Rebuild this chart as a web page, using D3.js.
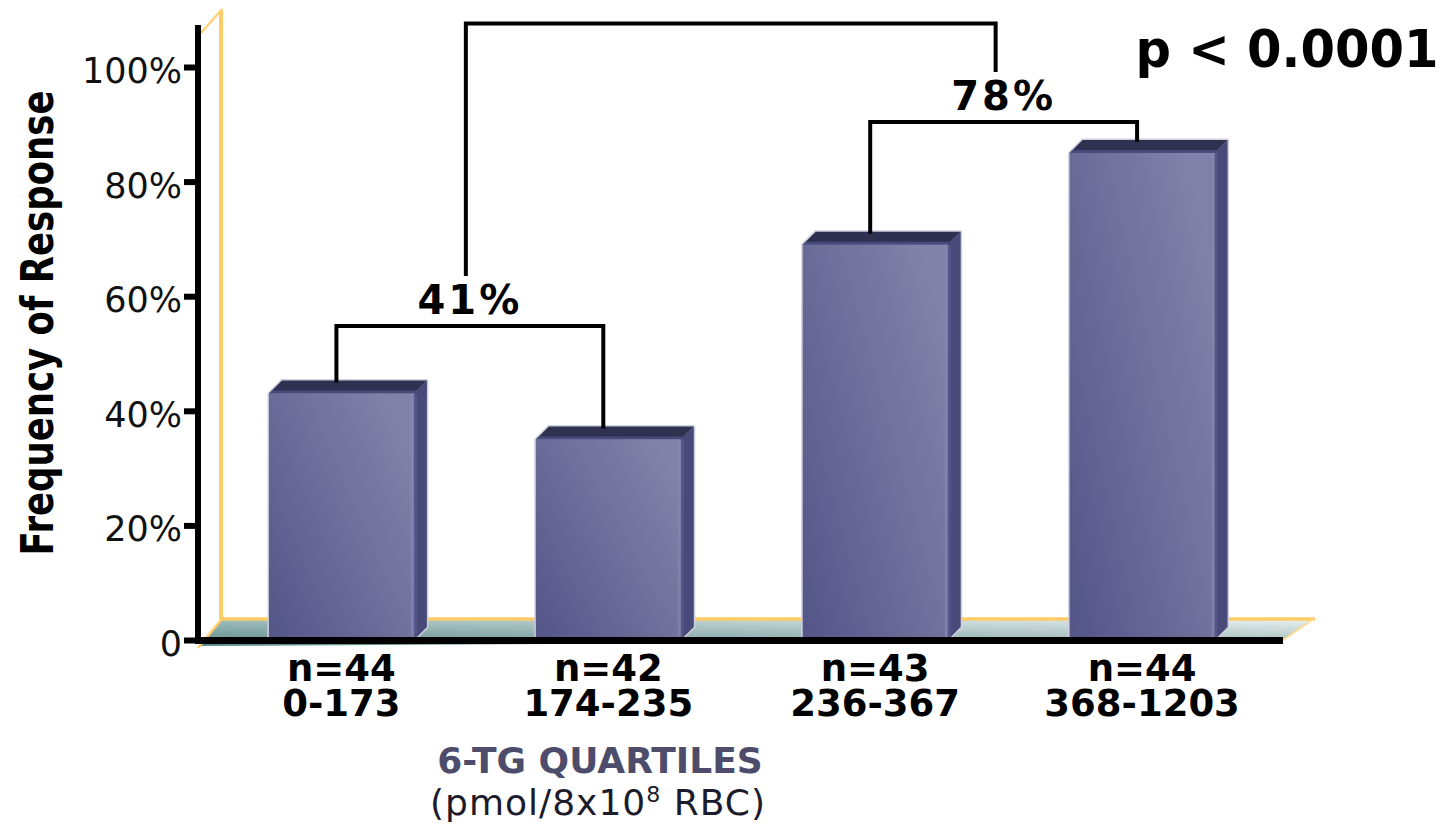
<!DOCTYPE html>
<html>
<head>
<meta charset="utf-8">
<script src="https://cdn.jsdelivr.net/npm/d3@7"></script>
<style>
  html, body { margin: 0; padding: 0; background: #ffffff; }
  svg { display: block; }
</style>
</head>
<body>
<svg id="chart" width="1447" height="825"></svg>
<script>
// ---- data ----
const sampleSizes = ["n=44", "n=42", "n=43", "n=44"];
const quartileRanges = ["0-173", "174-235", "236-367", "368-1203"];
const responseRates = [43, 35, 69, 85];
const yTickValues = [0, 20, 40, 60, 80, 100];
const yTickLabels = ["0", "20%", "40%", "60%", "80%", "100%"];
const pooledPairs = [[0, 1], [2, 3]];
const pooledLabels = ["41%", "78%"];
const pValueText = "p < 0.0001";
const axisTitle = "Frequency of Response";
const xTitle = "6-TG QUARTILES";

// ---- layout ----
const svg = d3.select("#chart");
const defs = svg.append("defs");
const depth = 13;           // 3D depth of the bars
const baseY = 640;
const FONT = "'DejaVu Sans', Verdana, sans-serif";

const y = d3.scaleLinear().domain([0, 100]).range([baseY, 67]);
const x = d3.scaleBand()
  .domain(d3.range(responseRates.length))
  .range([202, 1281.5])
  .paddingInner(0.4567)
  .paddingOuter(0.2507);
const bw = x.bandwidth();

// squeeze a text horizontally (in its own frame) to a target length
function fitWidth(sel, target) {
  const w = sel.node().getComputedTextLength();
  return w > 0 ? target / w : 1;
}

// gradients
const frontGrad = defs.append("linearGradient").attr("id", "front")
  .attr("x1", 0).attr("y1", 1).attr("x2", 1).attr("y2", 0.25);
frontGrad.append("stop").attr("offset", 0).attr("stop-color", "#545588");
frontGrad.append("stop").attr("offset", 1).attr("stop-color", "#8182a9");

const floorGrad = defs.append("linearGradient").attr("id", "floor")
  .attr("x1", 0).attr("y1", 1).attr("x2", 1).attr("y2", 0);
floorGrad.append("stop").attr("offset", 0).attr("stop-color", "#578a8b");
floorGrad.append("stop").attr("offset", 0.55).attr("stop-color", "#a9c1c1");
floorGrad.append("stop").attr("offset", 1).attr("stop-color", "#eaf0f0");

// ---- floor and back wall ----
const floorTop = 619, wallX = 221;
svg.append("polygon")
  .attr("points", [[199, 646], [wallX, floorTop], [1315, floorTop], [1283, baseY]].join(" "))
  .attr("fill", "url(#floor)");
svg.append("line").attr("x1", wallX).attr("y1", floorTop).attr("x2", 1315).attr("y2", floorTop)
  .attr("stroke", "#ffcc66").attr("stroke-width", 3.5);
svg.append("line").attr("x1", 1283).attr("y1", baseY).attr("x2", 1315).attr("y2", floorTop - 1)
  .attr("stroke", "#ffdc96").attr("stroke-width", 2);
svg.append("line").attr("x1", 198).attr("y1", 648).attr("x2", wallX + 1).attr("y2", floorTop)
  .attr("stroke", "#ffcc66").attr("stroke-width", 2.5);
svg.append("line").attr("x1", wallX).attr("y1", 10).attr("x2", wallX).attr("y2", floorTop)
  .attr("stroke", "#ffcc66").attr("stroke-width", 4);
svg.append("line").attr("x1", 201).attr("y1", 33).attr("x2", wallX + 1).attr("y2", 9)
  .attr("stroke", "#ffd27a").attr("stroke-width", 2.5);

// ---- bars ----
const bars = svg.append("g").selectAll("g").data(responseRates).join("g");

bars.each(function (v, i) {
  const g = d3.select(this);
  const x0 = x(i), x1 = x(i) + bw, yt = y(v);
  // pale rim around the silhouette
  g.append("polygon")
    .attr("points", [[x0, baseY], [x0, yt], [x0 + depth, yt - depth], [x1 + depth, yt - depth],
                     [x1 + depth, baseY - depth], [x1, baseY]].join(" "))
    .attr("fill", "#cfd0de").attr("stroke", "#cfd0de").attr("stroke-width", 3)
    .attr("stroke-linejoin", "round");
  // right side
  g.append("polygon")
    .attr("points", [[x1, yt], [x1 + depth, yt - depth], [x1 + depth, baseY - depth], [x1, baseY]].join(" "))
    .attr("fill", "#494a79");
  // top
  g.append("polygon")
    .attr("points", [[x0, yt], [x0 + depth, yt - depth], [x1 + depth, yt - depth], [x1, yt]].join(" "))
    .attr("fill", "#2f3150");
  // bevel strip on the front-top edge
  g.append("polygon")
    .attr("points", [[x0, yt], [x0 + 3, yt - 3], [x1 + 3, yt - 3], [x1, yt]].join(" "))
    .attr("fill", "#484a7c");
  // front face
  g.append("rect")
    .attr("x", x0).attr("y", yt).attr("width", bw).attr("height", baseY - yt)
    .attr("fill", "url(#front)");
  g.append("rect")
    .attr("x", x1 - 3).attr("y", yt).attr("width", 3).attr("height", baseY - yt)
    .attr("fill", "#8586ac").attr("opacity", 0.7);
  g.append("rect")
    .attr("x", x1).attr("y", yt).attr("width", 3).attr("height", baseY - yt)
    .attr("fill", "#54558a");
});

// ---- axes ----
const yAxis = d3.axisLeft(y)
  .tickValues(yTickValues)
  .tickFormat((d, i) => yTickLabels[i])
  .tickSize(11)
  .tickPadding(2);
const yAxisG = svg.append("g").attr("transform", "translate(195,0)").call(yAxis);
yAxisG.select(".domain").remove();
yAxisG.selectAll(".tick line").attr("stroke", "#000").attr("stroke-width", 6);
yAxisG.selectAll(".tick text")
  .attr("fill", "#111")
  .attr("font-family", FONT)
  .attr("font-size", 35)
  .attr("dy", "0.44em");

svg.append("line").attr("x1", 198).attr("y1", 25).attr("x2", 198).attr("y2", 644)
  .attr("stroke", "#000").attr("stroke-width", 6);
svg.append("line").attr("x1", 195).attr("y1", 640.5).attr("x2", 1283).attr("y2", 640.5)
  .attr("stroke", "#000").attr("stroke-width", 7);

// category labels: sample size over quartile range
const catG = svg.append("g")
  .attr("font-family", FONT)
  .attr("font-weight", "bold").attr("font-size", 37)
  .attr("fill", "#000").attr("text-anchor", "middle");
const cat = catG.selectAll("text").data(sampleSizes).join("text")
  .attr("y", 681);
cat.append("tspan")
  .attr("x", (d, i) => x(i) + bw / 2)
  .text(d => d);
cat.append("tspan")
  .attr("x", (d, i) => x(i) + bw / 2)
  .attr("dy", 35)
  .text((d, i) => quartileRanges[i]);

// x title
svg.append("text")
  .attr("x", 600).attr("y", 773)
  .attr("text-anchor", "middle")
  .attr("font-family", FONT)
  .attr("font-weight", "bold").attr("font-size", 36)
  .attr("fill", "#4d4d6b")
  .text(xTitle);
const sub = svg.append("text")
  .attr("x", 598).attr("y", 815)
  .attr("text-anchor", "middle")
  .attr("font-family", FONT)
  .attr("font-size", 36)
  .attr("letter-spacing", 1)
  .attr("fill", "#1b1b2b");
sub.append("tspan").text("(pmol/8x10");
sub.append("tspan").attr("font-size", 22).attr("dy", -13).text("8");
sub.append("tspan").attr("dy", 13).text(" RBC)");

// y title (condensed bold)
const yTitle = svg.append("text")
  .attr("text-anchor", "middle")
  .attr("font-family", FONT)
  .attr("font-weight", "bold").attr("font-size", 45)
  .attr("fill", "#000")
  .text(axisTitle);
yTitle.attr("transform", `translate(53,323) rotate(-90) scale(${fitWidth(yTitle, 465)},1)`);

// ---- comparison brackets ----
const legX = i => x(i) + bw / 2 - 5;
const pairLevels = [54.8, 90.4];     // bracket heights, % units
const overLevel = 107.6;
const lineW = 4;
const br = svg.append("g").attr("fill", "none").attr("stroke", "#000")
  .attr("stroke-width", lineW).attr("stroke-linecap", "square");
const labelG = svg.append("g")
  .attr("font-family", FONT)
  .attr("font-weight", "bold").attr("font-size", 40)
  .attr("text-anchor", "middle").attr("fill", "#000");

const pairMid = [];
pooledPairs.forEach(([a, b], k) => {
  const yl = y(pairLevels[k]);
  const xa = legX(a), xb = legX(b);
  br.append("path").attr("d",
    `M${xa},${y(responseRates[a]) - depth}V${yl}H${xb}V${y(responseRates[b]) - depth}`);
  const mid = (xa + xb) / 2;
  pairMid.push({ mid, yl });
  const t = labelG.append("text")
    .attr("letter-spacing", 3)
    .text(pooledLabels[k]);
  t.attr("transform", `translate(${mid},${yl - 12})`);
});

const yo = y(overLevel);
const capH = 29;
br.append("path").attr("d",
  `M${pairMid[0].mid - 4},${pairMid[0].yl - 12 - capH - 11}V${yo}` +
  `H${pairMid[1].mid - 8}V${pairMid[1].yl - 12 - capH - 11}`);

// p-value
const pv = svg.append("text")
  .attr("text-anchor", "middle")
  .attr("font-family", FONT)
  .attr("font-weight", "bold").attr("font-size", 51)
  .attr("fill", "#000")
  .text(pValueText);
pv.attr("transform", `translate(1287,67) scale(${fitWidth(pv, 303)},1)`);
</script>
</body>
</html>
